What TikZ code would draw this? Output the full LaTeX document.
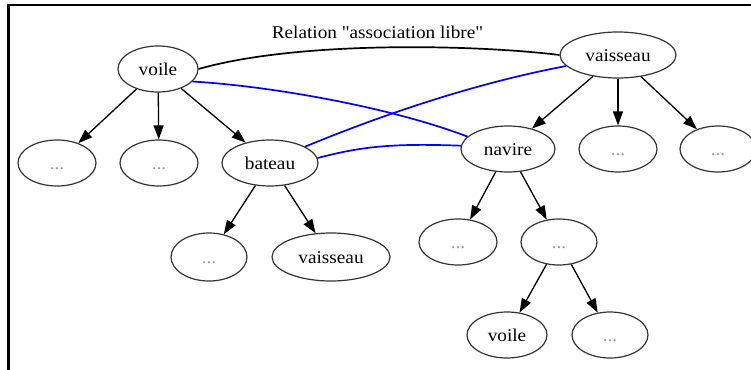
\documentclass[tikz,border=0pt]{standalone}
\usepackage{fontspec}
\setmainfont{Liberation Serif}[FakeStretch=1.07]
\newfontfamily\lblfont{Liberation Serif}[FakeStretch=1.07, Ligatures=TeXOff]
\usetikzlibrary{shapes.geometric,arrows.meta}
\begin{document}
\begin{tikzpicture}[x=1pt,y=-1pt,
  nd/.style={ellipse, draw=black!80, line width=1.2pt, inner sep=0pt,
    minimum width=#1, minimum height=46pt, text height=13pt, text depth=1pt,
    font=\fontsize{18}{20}\selectfont},
  nd/.default=78pt,
  dots/.style={text=black!40},
  arr/.style={draw=black, line width=1.3pt, -{Triangle[length=14pt,width=10pt]}},
  rel/.style={draw=blue, line width=1.7pt},
  assoc/.style={draw=black, line width=1.7pt},
  frame/.style={draw=black, line width=2.5pt}]
\useasboundingbox (0,0) rectangle (751,369);
\clip (0,0) rectangle (751,369);
\draw[frame] (8.5,375) -- (8.5,5) -- (760,5);

% nodes
\node[nd=80pt]  (voile)  at (158,69)  {voile};
\node[nd, dots] (d1)     at (57,163)  {...};
\node[nd, dots] (d2)     at (159,163) {...};
\node[nd=96pt]  (bateau) at (270,163) {bateau};
\node[nd=116pt] (vais)   at (618,55)  {vaisseau};
\node[nd=94pt]  (navire) at (508,149) {navire};
\node[nd, dots] (d3)     at (618,149) {...};
\node[nd=76pt, dots] (d4) at (718,149) {...};
\node[nd=76pt, dots, minimum height=48pt] (d5) at (209,257) {...};
\node[nd=118pt, minimum height=48pt] (vais2) at (331,257) {vaisseau};
\node[nd, dots] (d6)     at (458,242) {...};
\node[nd=76pt, dots] (d7) at (559,242) {...};
\node[nd=80pt]  (voile2) at (507,335) {voile};
\node[nd=76pt, dots] (d8) at (610,335) {...};

\node[font=\lblfont\fontsize{18}{20}\selectfont, anchor=base, inner sep=0pt] (lbl) at (377.5,38) {Relation "association libre"};

% tree edges
\draw[arr] (voile) -- (d1);
\draw[arr] (voile) -- (d2);
\draw[arr] (voile) -- (bateau);
\draw[arr] (vais) -- (navire);
\draw[arr] (vais) -- (d3);
\draw[arr] (vais) -- (d4);
\draw[arr] (bateau) -- (d5);
\draw[arr] (bateau) -- (vais2);
\draw[arr] (navire) -- (d6);
\draw[arr] (navire) -- (d7);
\draw[arr] (d7) -- (voile2);
\draw[arr] (d7) -- (d8);

% relations
\draw[assoc] (voile.east) .. controls (300,40) and (480,45) .. (vais.west);
\draw[rel] (voile.-20) .. controls (270,86) and (390,107) .. (navire.163);
\draw[rel] (bateau.25) .. controls (360,124) and (460,86) .. (vais.192);
\draw[rel] (bateau.6) .. controls (360,147) and (390,143) .. (navire.176);
\end{tikzpicture}
\end{document}
